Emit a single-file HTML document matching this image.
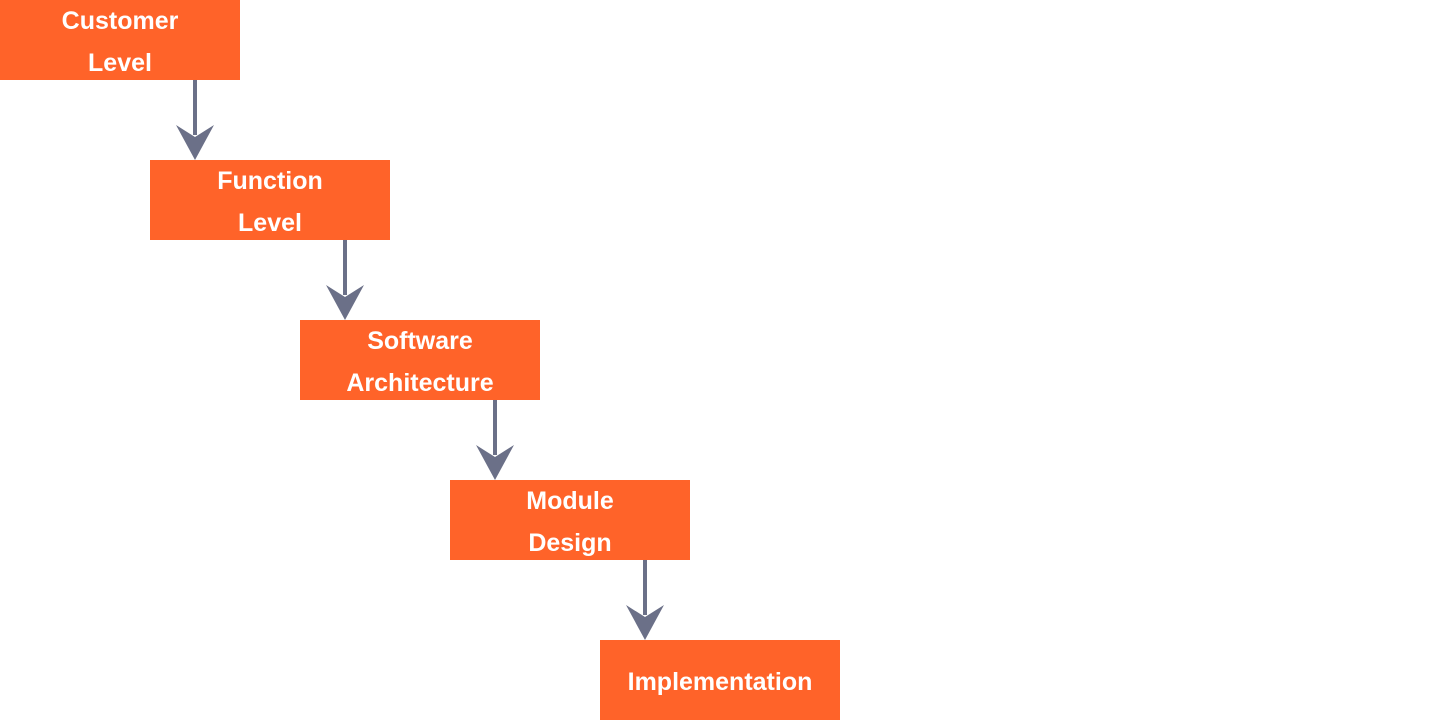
<!DOCTYPE html>
<html><head><style>
html,body{margin:0;padding:0;background:#fff;width:1440px;height:720px;overflow:hidden;position:relative}
.b{position:absolute;box-sizing:border-box;padding-top:3px;width:240px;height:80px;background:#ff6329;color:#fff;font-family:"Liberation Sans",sans-serif;font-weight:bold;font-size:25px;line-height:42px;display:flex;align-items:center;justify-content:center;text-align:center}
svg{position:absolute;left:0;top:0}
</style></head><body>
<div class="b" style="left:0;top:0">Customer<br>Level</div>
<div class="b" style="left:150px;top:160px">Function<br>Level</div>
<div class="b" style="left:300px;top:320px">Software<br>Architecture</div>
<div class="b" style="left:450px;top:480px">Module<br>Design</div>
<div class="b" style="left:600px;top:640px">Implementation</div>
<svg width="1440" height="720">
<g fill="#6b7088" stroke="#6b7088">
<g><line x1="195" y1="80" x2="195" y2="135" stroke-width="4"/><polygon stroke="none" points="176,125 195,137 214,125 195,160"/></g>
<g transform="translate(150,160)"><line x1="195" y1="80" x2="195" y2="135" stroke-width="4"/><polygon stroke="none" points="176,125 195,137 214,125 195,160"/></g>
<g transform="translate(300,320)"><line x1="195" y1="80" x2="195" y2="135" stroke-width="4"/><polygon stroke="none" points="176,125 195,137 214,125 195,160"/></g>
<g transform="translate(450,480)"><line x1="195" y1="80" x2="195" y2="135" stroke-width="4"/><polygon stroke="none" points="176,125 195,137 214,125 195,160"/></g>
</g>
</svg>
</body></html>
